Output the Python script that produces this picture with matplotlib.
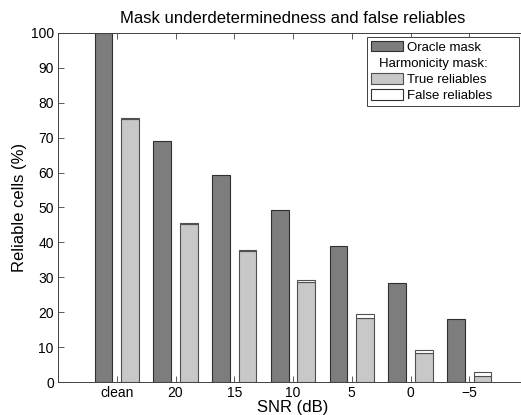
import matplotlib
matplotlib.use('Agg')
import numpy as np
import matplotlib.pyplot as plt
from matplotlib.patches import Patch

plt.rcParams['font.family'] = ['Liberation Sans', 'DejaVu Sans']

# Data
snr_labels = ['clean', '20', '15', '10', '5', '0', '\u22125']
oracle_mask = [100, 69.0, 59.3, 49.3, 39.0, 28.3, 18.0]
true_reliables = [75.4, 45.2, 37.4, 28.6, 18.4, 8.2, 1.8]
false_reliables = [0.2, 0.3, 0.4, 0.7, 1.0, 1.1, 1.0]

dark_grey = '#7d7d7d'
light_grey = '#c8c8c8'
axis_grey = '#404040'

fig = plt.figure(figsize=(5.21, 4.15), dpi=100)
ax = fig.add_axes([58 / 521, 1 - 382 / 415, 470 / 521, 349 / 415])

x = np.arange(1, len(snr_labels) + 1)
w = 0.3
off = 0.225

ax.bar(x - off, oracle_mask, width=w, color=dark_grey, edgecolor='#303030', linewidth=0.8)
ax.bar(x + off, true_reliables, width=w, color=light_grey, edgecolor='#505050', linewidth=0.8)
ax.bar(x + off, false_reliables, width=w, bottom=true_reliables, color='white',
       edgecolor='#505050', linewidth=0.8)

ax.set_xlim(0, 8)
ax.set_ylim(0, 100)
ax.set_xticks(x)
ax.set_xticklabels(snr_labels)
ax.set_yticks(np.arange(0, 101, 10))
ax.tick_params(direction='in', top=True, right=True, length=4, width=0.6,
               color=axis_grey, labelsize=10, pad=3)
for s in ax.spines.values():
    s.set_color(axis_grey)
    s.set_linewidth(0.7)

ax.set_title('Mask underdeterminedness and false reliables', fontsize=12, pad=7)
ax.set_xlabel('SNR (dB)', fontsize=12, labelpad=0)
ax.set_ylabel('Reliable cells (%)', fontsize=12, labelpad=3)

handles = [Patch(facecolor=dark_grey, edgecolor='#303030', linewidth=0.8),
           Patch(facecolor='none', edgecolor='none'),
           Patch(facecolor=light_grey, edgecolor='#505050', linewidth=0.8),
           Patch(facecolor='white', edgecolor='#303030', linewidth=0.8)]
names = ['Oracle mask', 'Harmonicity mask:', 'True reliables', 'False reliables']
leg = ax.legend(handles, names, loc='upper left', bbox_to_anchor=(367 / 521, 1 - 37 / 415),
                bbox_transform=fig.transFigure, borderaxespad=0, fontsize=9.5,
                handlelength=2.4, handleheight=0.85, handletextpad=0.3,
                labelspacing=0.25, borderpad=0.3, fancybox=False, framealpha=1)
leg.get_frame().set_edgecolor(axis_grey)
leg.get_frame().set_linewidth(0.7)
leg.get_texts()[1].set_x(-28)

fig.savefig('out.png', dpi=100)
